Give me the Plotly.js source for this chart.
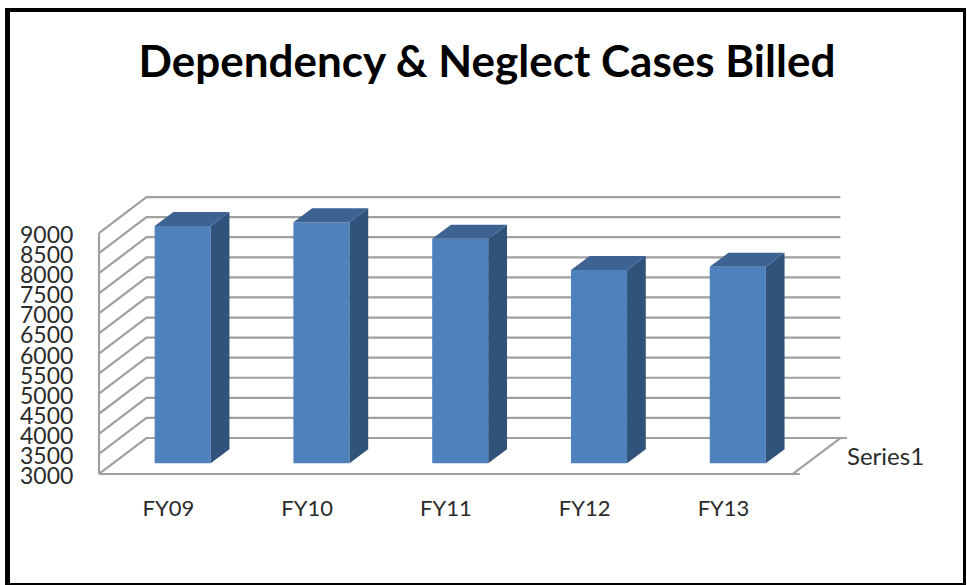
<!DOCTYPE html>
<html>
<head>
<meta charset="utf-8">
<script src="https://cdn.plot.ly/plotly-3.0.1.min.js"></script>
<style>
html,body{margin:0;padding:0;background:#fff;overflow:hidden}
#frame{position:absolute;left:5px;top:8px;width:953px;height:571px;border-style:solid;border-color:#000;border-width:4px 3px 3px 5px}
#chart{position:absolute;left:0;top:0;width:967px;height:585px}
</style>
</head>
<body>
<div id="frame"></div>
<div id="chart"></div>
<script>
const titleText = "Dependency & Neglect Cases Billed";
const categories = ["FY09", "FY10", "FY11", "FY12", "FY13"];
const casesBilled = [8910, 9000, 8590, 7815, 7895];
const seriesName = "Series1";
const yTicks = [3000,3500,4000,4500,5000,5500,6000,6500,7000,7500,8000,8500,9000];

const yFloor = 3000;
const n = categories.length;
const wallDX = 0.342, wallDY = 896;      // oblique depth of the chart box, in axis units
const barInsetX = 0.103, barInsetY = 266; // bars stand this far behind the front plane
const barW = 0.404, barDX = 0.135, barDY = 349;
const xMin = -0.0144, xMax = 5.39;
const yMin = 2950, yMax = 9947;           // small padding so the outer lines are not clipped
const floorTick = 0.05;
const gridColor = "#a0a0a0";
const labelFont = {family: "Lato, 'Noto Sans', sans-serif", size: 23, color: "#2b2b2b"};
const xLabelFont = {family: "Lato, 'Noto Sans', sans-serif", size: 22, color: "#2b2b2b"};
const seriesFont = {family: "Lato, 'Noto Sans', sans-serif", size: 24, color: "#2b2b2b"};

const positions = categories.map((c, i) => i + 0.5);

function line(x, y) {
  return {type:"scatter", mode:"lines", x, y, hoverinfo:"skip", showlegend:false,
    line:{color:gridColor, width:2.2}};
}

const traces = [];
// walls: oblique plus back line for each tick
yTicks.forEach(v => {
  const endX = v === yFloor ? n + floorTick + wallDX : n + wallDX;
  traces.push(line([0, wallDX, endX], [v, v + wallDY, v + wallDY]));
});
// left front edge, front floor edge, right floor edge
traces.push(line([0, 0], [yFloor, yTicks[yTicks.length-1]]));
traces.push(line([0, n + floorTick], [yFloor, yFloor]));
traces.push(line([n, n + wallDX], [yFloor, yFloor + wallDY]));

// front faces
traces.push({type:"bar", name:seriesName, x:positions, y:casesBilled.map(v => v - yFloor), base:yFloor,
  width:barW, xaxis:"x2", yaxis:"y2", marker:{color:"#4f81bd", line:{width:0}}, showlegend:false,
  text:categories, textposition:"none", hovertemplate:"%{text}: %{customdata}<extra></extra>", customdata:casesBilled});

// side and top faces
casesBilled.forEach((v, i) => {
  const l = positions[i] - barW/2, r = positions[i] + barW/2;
  traces.push({type:"scatter", mode:"lines", xaxis:"x2", yaxis:"y2", fill:"toself", fillcolor:"#30527b",
    line:{width:0, color:"#30527b"}, hoverinfo:"skip", showlegend:false,
    x:[r, r + barDX, r + barDX, r, r], y:[yFloor, yFloor + barDY, v + barDY, v, yFloor]});
  traces.push({type:"scatter", mode:"lines", xaxis:"x2", yaxis:"y2", fill:"toself", fillcolor:"#3c6392",
    line:{width:0, color:"#3c6392"}, hoverinfo:"skip", showlegend:false,
    x:[l, l + barDX, r + barDX, r, l], y:[v, v + barDY, v + barDY, v, v]});
});

const layout = {
  width:967, height:585, autosize:false,
  margin:{l:97, r:120, t:195, b:109, pad:0},
  paper_bgcolor:"rgba(0,0,0,0)", plot_bgcolor:"rgba(0,0,0,0)",
  showlegend:false,
  title:{text:titleText, x:0.5036, xref:"container", xanchor:"center", y:0.895, yref:"container", yanchor:"middle",
    font:{family:"Lato, 'Noto Sans', sans-serif", size:44, color:"#000", weight:700}},
  xaxis:{type:"linear", range:[xMin, xMax], showgrid:false, zeroline:false, showline:false,
    tickmode:"array", tickvals:positions, ticktext:categories, ticks:"outside", ticklen:13, tickcolor:"rgba(0,0,0,0)",
    tickfont:xLabelFont, fixedrange:true},
  yaxis:{type:"linear", range:[yMin, yMax], showgrid:false, zeroline:false, showline:false,
    tickmode:"array", tickvals:yTicks, ticktext:yTicks.map(String), ticks:"outside", ticklen:18, tickcolor:"rgba(0,0,0,0)",
    ticklabelshift:2, tickfont:labelFont, fixedrange:true},
  xaxis2:{type:"linear", overlaying:"x", visible:false, range:[xMin - barInsetX, xMax - barInsetX], fixedrange:true},
  yaxis2:{type:"linear", overlaying:"y", visible:false, range:[yMin - barInsetY, yMax - barInsetY], fixedrange:true},
  annotations:[{text:seriesName, xref:"x", yref:"y", x:xMax, y:3450, xanchor:"left", yanchor:"middle", showarrow:false,
    font:seriesFont, xshift:-2}]
};
Plotly.newPlot("chart", traces, layout, {displayModeBar:false, staticPlot:true});
</script>
</body>
</html>
